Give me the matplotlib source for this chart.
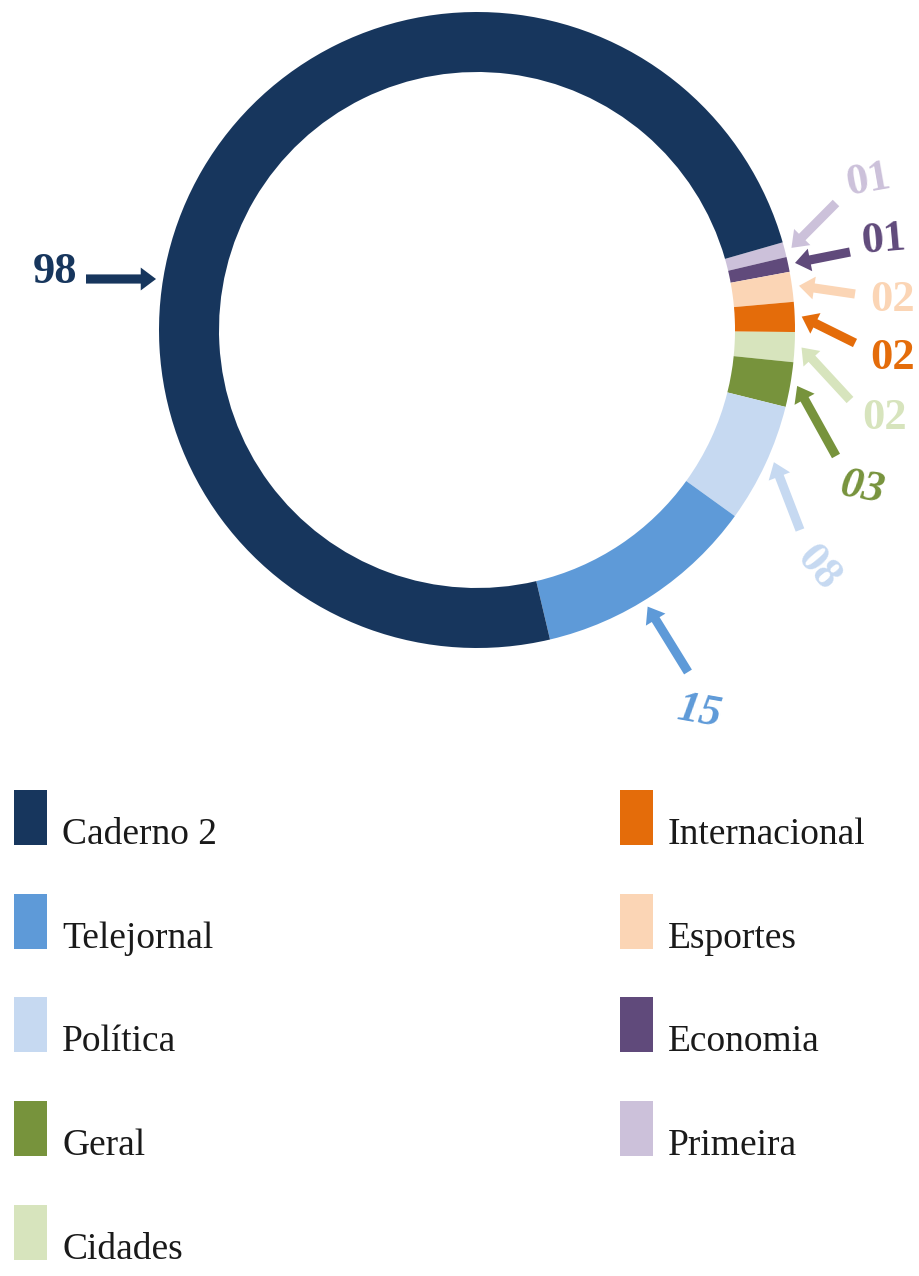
import numpy as np
import matplotlib.pyplot as plt
from matplotlib.patches import Rectangle

# ------------------------------
# 1. Data
# ------------------------------
sections = ["Primeira", "Economia", "Esportes", "Internacional", "Cidades",
            "Geral", "Política", "Telejornal", "Caderno 2"]
counts = [1, 1, 2, 2, 2, 3, 8, 15, 98]
value_labels = ["01", "01", "02", "02", "02", "03", "08", "15", "98"]
colors = ["#CCC1DA", "#604A7B", "#FBD5B5", "#E46C0A", "#D7E4BD",
          "#77933C", "#C6D9F1", "#5E9AD8", "#17365D"]

legend_left = ["Caderno 2", "Telejornal", "Política", "Geral", "Cidades"]
legend_right = ["Internacional", "Esportes", "Economia", "Primeira"]

# ------------------------------
# 2. Layout (pixels, y measured from the top)
# ------------------------------
W, H = 919, 1276
cx, cy, R, ring = 477, 330, 318, 60
serif = "Liberation Serif"

# text centre, arrow tail, rotation, font style, fixed arrow heading (deg) or None
label_layout = {
    "Primeira":      ((868, 180), (836, 203), 10, "normal", None),
    "Economia":      ((884, 240), (850, 252), 5, "normal", None),
    "Esportes":      ((893, 300), (855, 294), 0, "normal", None),
    "Internacional": ((893, 358), (855, 343), 0, "normal", None),
    "Cidades":       ((885, 418), (850, 400), 0, "normal", None),
    "Geral":         ((862, 488), (836, 456), -10, "italic", None),
    "Política":      ((818, 568), (800, 530), -50, "normal", None),
    "Telejornal":    ((700, 712), (688, 672), -10, "italic", None),
    "Caderno 2":     ((55, 272), (86, 279), 0, "normal", 0.0),
}

# ------------------------------
# 3. Donut
# ------------------------------
fig = plt.figure(figsize=(W / 100, H / 100), dpi=100)
ax = fig.add_axes([0, 0, 1, 1])

wedges, _ = ax.pie(counts, colors=colors, startangle=16, counterclock=False,
                   radius=R, center=(cx, H - cy),
                   wedgeprops=dict(width=ring, linewidth=0))
ax.set_xlim(0, W)
ax.set_ylim(0, H)
ax.set_aspect("equal")
ax.axis("off")

# value labels with arrows pointing at each slice
gap = 7
for w, name, txt, col in zip(wedges, sections, value_labels, colors):
    (tx, ty), (sx, sy), rot, style, heading = label_layout[name]
    if heading is None:
        # aim at the slice, as close to the tail's direction as the slice allows
        lo, hi = w.theta1, w.theta2
        m = min((hi - lo) / 2, 10)
        lo, hi = lo + m, hi - m
        ang = np.degrees(np.arctan2(cy - sy, sx - cx))
        ang = lo + ((ang - lo) % 360)
        ang = min(ang, hi)
        ex = cx + (R + gap) * np.cos(np.radians(ang))
        ey = cy - (R + gap) * np.sin(np.radians(ang))
    else:
        # straight arrow: first hit of the ray with the outer edge
        dx, dy = np.cos(np.radians(heading)), -np.sin(np.radians(heading))
        px, py = sx - cx, sy - cy
        b = px * dx + py * dy
        c = px * px + py * py - (R + gap) ** 2
        t = -b - np.sqrt(b * b - c)
        ex, ey = sx + t * dx, sy + t * dy
    ax.annotate("", xy=(ex, H - ey), xytext=(sx, H - sy),
                arrowprops=dict(arrowstyle="simple,head_length=1.0,head_width=1.5,tail_width=0.6",
                                mutation_scale=11, fc=col, ec=col, lw=0,
                                shrinkA=0, shrinkB=0))
    ax.text(tx, H - ty, txt, fontsize=32, fontweight="bold", fontstyle=style,
            color=col, rotation=rot, ha="center", va="center", family=serif)

# ------------------------------
# 4. Legend
# ------------------------------
row_top = 790
row_step = 103.7
for col_x, names in [(14, legend_left), (620, legend_right)]:
    for i, name in enumerate(names):
        top = row_top + i * row_step
        ax.add_patch(Rectangle((col_x, H - top - 55), 33, 55, lw=0,
                               color=colors[sections.index(name)]))
        ax.text(col_x + 48, H - top - 54, name, fontsize=27, family=serif,
                color="#1a1a1a", va="baseline", ha="left")

plt.savefig("out.png", dpi=100)
